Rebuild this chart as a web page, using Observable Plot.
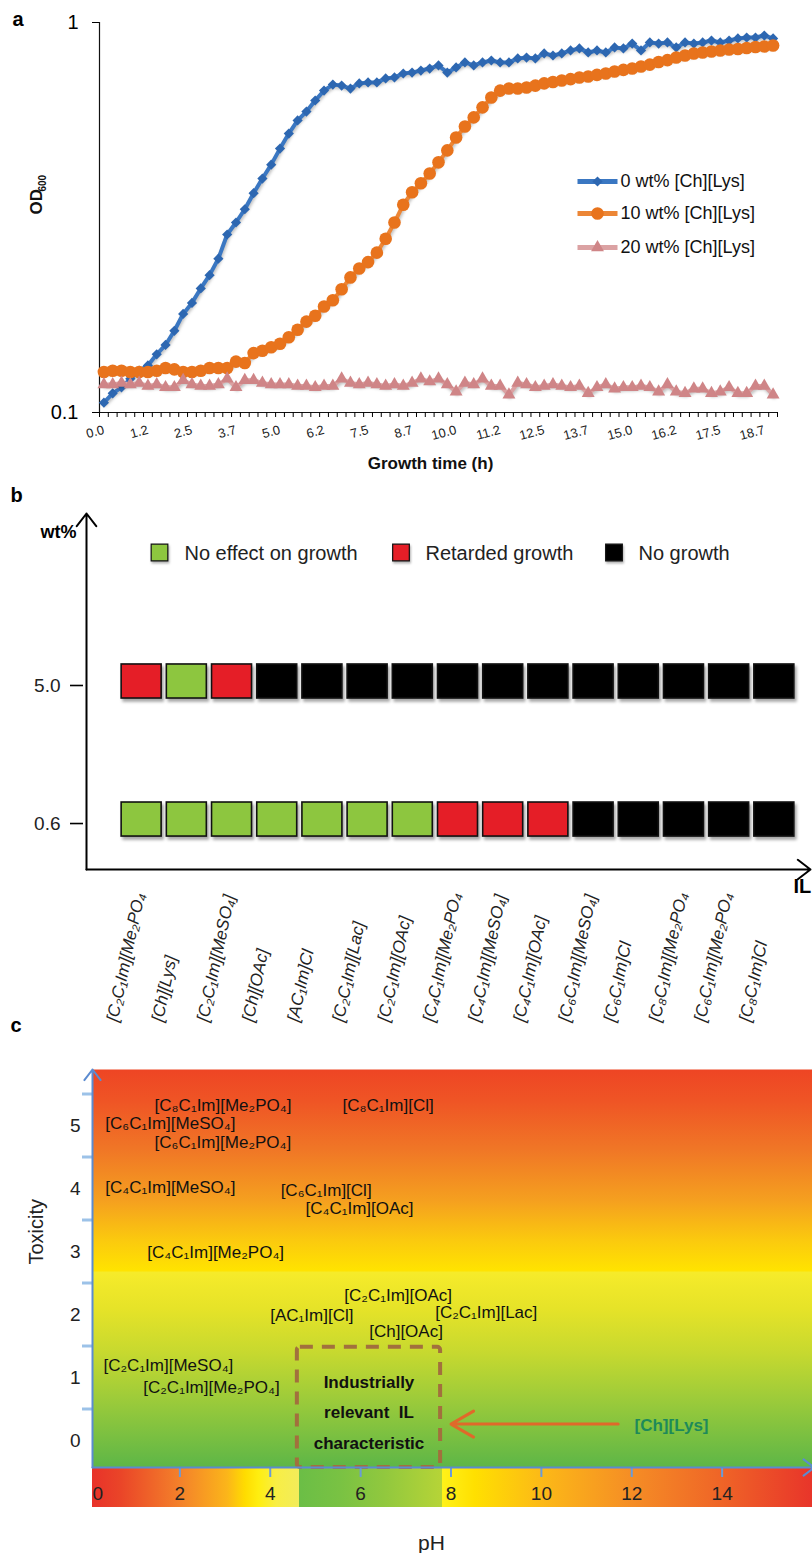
<!DOCTYPE html>
<html>
<head>
<meta charset="utf-8">
<script src="https://cdn.jsdelivr.net/npm/d3@7"></script>
<script src="https://cdn.jsdelivr.net/npm/@observablehq/plot@0.6"></script>
<style>
  body { margin: 0; background: #fff; font-family: "Liberation Sans", Arial, sans-serif; }
  #wrap { position: relative; width: 812px; height: 1553px; overflow: hidden; }
  #panelB g[aria-label="rect"] rect { filter: drop-shadow(2px 3px 1.5px rgba(0,0,0,0.35)); }
  #panelB g[aria-label="dot"] path { filter: drop-shadow(1px 2px 1px rgba(0,0,0,0.3)); }
  #panelA g[aria-label="line"] path { filter: drop-shadow(1px 2px 1.5px rgba(0,0,0,0.25)); }
</style>
</head>
<body>
<div id="wrap"></div>
<script>
const FONT = '"Liberation Sans", Arial, Helvetica, sans-serif';

// ================= Panel a : growth curves =================
const sampleIntervalH = 0.25;
const od0wt = [0.106,0.112,0.116,0.122,0.128,0.132,0.141,0.149,0.162,0.179,
  0.191,0.208,0.225,0.248,0.286,0.307,0.332,0.365,0.398,0.432,
  0.475,0.519,0.561,0.591,0.631,0.669,0.693,0.689,0.677,0.698,
  0.702,0.702,0.719,0.723,0.740,0.744,0.753,0.762,0.776,0.744,
  0.767,0.790,0.776,0.790,0.799,0.790,0.790,0.809,0.813,0.809,
  0.833,0.823,0.833,0.848,0.858,0.838,0.848,0.838,0.863,0.858,
  0.883,0.848,0.889,0.883,0.889,0.863,0.889,0.883,0.889,0.899,
  0.889,0.899,0.910,0.915,0.915,0.926,0.910];
const od10wt = [0.127,0.128,0.128,0.127,0.127,0.127,0.128,0.130,0.129,0.127,
  0.127,0.128,0.130,0.130,0.130,0.135,0.134,0.142,0.144,0.147,
  0.150,0.156,0.163,0.171,0.177,0.187,0.194,0.207,0.222,0.234,
  0.243,0.257,0.279,0.307,0.341,0.367,0.387,0.410,0.438,0.470,
  0.507,0.541,0.571,0.606,0.642,0.669,0.677,0.677,0.681,0.689,
  0.698,0.704,0.710,0.716,0.723,0.727,0.734,0.740,0.749,0.756,
  0.762,0.771,0.780,0.792,0.801,0.813,0.823,0.833,0.838,0.843,
  0.848,0.853,0.855,0.860,0.865,0.868,0.873];
const od20wt = [0.118,0.118,0.119,0.118,0.119,0.117,0.118,0.116,0.116,0.121,
  0.118,0.117,0.117,0.118,0.122,0.116,0.121,0.121,0.119,0.118,
  0.118,0.118,0.117,0.117,0.116,0.117,0.117,0.122,0.119,0.118,
  0.119,0.118,0.117,0.118,0.117,0.119,0.122,0.120,0.122,0.118,
  0.113,0.119,0.118,0.122,0.117,0.117,0.111,0.119,0.118,0.116,
  0.117,0.118,0.117,0.116,0.117,0.112,0.116,0.118,0.115,0.116,
  0.116,0.117,0.116,0.113,0.118,0.113,0.112,0.115,0.115,0.112,
  0.113,0.116,0.112,0.112,0.117,0.117,0.111];
const seriesLabels = ["0 wt% [Ch][Lys]", "10 wt% [Ch][Lys]", "20 wt% [Ch][Lys]"];
const timeTickLabels = ["0.0","1.2","2.5","3.7","5.0","6.2","7.5","8.7","10.0","11.2","12.5","13.7","15.0","16.2","17.5","18.7"];
const timeLabelEvery = 5;
const odTicks = [0.1, 1];
const odTickLabels = ["0.1", "1"];

// ================= Panel b : IL tolerance grid =================
const ilNames = ["[C₂C₁Im][Me₂PO₄", "[Ch][Lys]", "[C₂C₁Im][MeSO₄]", "[Ch][OAc]", "[AC₁Im]Cl",
  "[C₂C₁Im][Lac]", "[C₂C₁Im][OAc]", "[C₄C₁Im][Me₂PO₄", "[C₄C₁Im][MeSO₄]", "[C₄C₁Im][OAc]",
  "[C₆C₁Im][MeSO₄]", "[C₆C₁Im]Cl", "[C₈C₁Im][Me₂PO₄", "[C₆C₁Im][Me₂PO₄", "[C₈C₁Im]Cl"];
const wtLevels = ["0.6", "5.0"];
const effectAt06 = ["noEffect","noEffect","noEffect","noEffect","noEffect","noEffect","noEffect",
  "retarded","retarded","retarded","noGrowth","noGrowth","noGrowth","noGrowth","noGrowth"];
const effectAt50 = ["retarded","noEffect","retarded","noGrowth","noGrowth","noGrowth","noGrowth","noGrowth",
  "noGrowth","noGrowth","noGrowth","noGrowth","noGrowth","noGrowth","noGrowth"];
const effectKeys = ["noEffect", "retarded", "noGrowth"];
const effectLabels = ["No effect on growth", "Retarded growth", "No growth"];

// ================= Panel c : toxicity vs pH map =================
const annNames = ["[C₈C₁Im][Me₂PO₄]", "[C₈C₁Im][Cl]", "[C₆C₁Im][MeSO₄]", "[C₆C₁Im][Me₂PO₄]",
  "[C₄C₁Im][MeSO₄]", "[C₆C₁Im][Cl]", "[C₄C₁Im][OAc]", "[C₄C₁Im][Me₂PO₄]", "[C₂C₁Im][OAc]",
  "[AC₁Im][Cl]", "[C₂C₁Im][Lac]", "[Ch][OAc]", "[C₂C₁Im][MeSO₄]", "[C₂C₁Im][Me₂PO₄]"];
const annPH  = [1.44, 5.60, 0.35, 1.44, 0.35, 4.23, 4.78, 1.28, 5.64, 4.00, 7.65, 6.19, 0.31, 1.19];
const annTox = [5.32, 5.32, 5.03, 4.73, 4.02, 3.97, 3.68, 2.98, 2.30, 1.98, 2.03, 1.73, 1.19, 0.84];
const toxTicks = [0, 1, 2, 3, 4, 5];
const toxTickLabels = ["0", "1", "2", "3", "4", "5"];
const pHTicks = [0, 2, 4, 6, 8, 10, 12, 14];
const pHTickLabels = ["0", "2", "4", "6", "8", "10", "12", "14"];
const industrialPH = [4.6, 7.77];
const industrialMaxTox = 1.48;
const industrialText = ["Industrially", "relevant\u00a0\u00a0IL", "characteristic"];
const industrialTextTox = [0.92, 0.44, -0.05];
const chLysLabel = ["[Ch][Lys]"];
const chLysPH = [12.88];
const chLysTox = [0.23];
const chLysArrowPH = [11.7, 8.0];

// ---------------------------------------------------------------
const wrap = document.getElementById("wrap");
const baseStyle = {background: "transparent", overflow: "visible", fontFamily: FONT};
function place(svg, top, id) {
  svg.style.position = "absolute";
  svg.style.left = "0px";
  svg.style.top = top + "px";
  svg.id = id;
  wrap.appendChild(svg);
}

// ---------- Panel a ----------
const times = od0wt.map((_, i) => i * sampleIntervalH);
const xDomA = [-0.5 * sampleIntervalH, (od0wt.length - 0.5) * sampleIntervalH];
const boundaries = d3.range(od0wt.length + 1).map(k => (k - 0.5) * sampleIntervalH);
const labelTimes = timeTickLabels.map((_, j) => j * timeLabelEvery * sampleIntervalH);
const seriesA = [od0wt, od10wt, od20wt];
const lookA = [
  {line: "#3a77c2", fill: "#2d67b1", symbol: "diamond2", r: 4.6},
  {line: "#ec8636", fill: "#e8731c", symbol: "circle", r: 6.3},
  {line: "#dba2a3", fill: "#cf8587", symbol: "triangle", r: 4.8}
];
const dashSymbol = {draw(ctx) { ctx.moveTo(-20, 0); ctx.lineTo(20, 0); }};

const marksA = [
  Plot.ruleX([xDomA[0]], {stroke: "#111", strokeWidth: 1.2}),
  Plot.ruleY([odTicks[0]], {stroke: "#111", strokeWidth: 1.2}),
  Plot.axisY({ticks: odTicks, tickFormat: d => odTickLabels[odTicks.indexOf(d)], tickSize: 7, tickPadding: 14, fontSize: 20, label: null}),
  Plot.axisX({ticks: boundaries, tickSize: 5, tickFormat: () => "", label: null}),
  Plot.text(labelTimes, {x: d => d, text: (d, i) => timeTickLabels[i], frameAnchor: "bottom", lineAnchor: "middle",
    textAnchor: "end", rotate: -15, dy: 17, fontSize: 13, fill: "#222"})
];
seriesA.forEach((vals, k) => {
  marksA.push(Plot.line(vals, {x: (d, i) => times[i], y: d => d, stroke: lookA[k].line, strokeWidth: 4}));
  marksA.push(Plot.dot(vals, {x: (d, i) => times[i], y: d => d, symbol: lookA[k].symbol, r: lookA[k].r,
    fill: lookA[k].fill, stroke: "none"}));
});
const legendDyA = [159, 191, 225];
seriesLabels.forEach((name, k) => {
  marksA.push(Plot.dot([name], {frameAnchor: "top-left", dx: 498, dy: legendDyA[k], symbol: dashSymbol,
    stroke: lookA[k].line, strokeWidth: 5, fill: "none"}));
  marksA.push(Plot.dot([name], {frameAnchor: "top-left", dx: 498, dy: legendDyA[k], symbol: lookA[k].symbol,
    r: lookA[k].r, fill: lookA[k].fill, stroke: "none"}));
  marksA.push(Plot.text([name], {frameAnchor: "top-left", lineAnchor: "middle", dx: 521, dy: legendDyA[k], text: d => d,
    textAnchor: "start", fontSize: 18, fill: "#111"}));
});
marksA.push(
  Plot.text(["OD"], {frameAnchor: "left", lineAnchor: "middle", dx: -63, dy: -3, rotate: -90, fontWeight: "bold", fontSize: 17, fill: "#111"}),
  Plot.text(["600"], {frameAnchor: "left", lineAnchor: "middle", dx: -57, dy: -26, rotate: -90, fontWeight: "bold", fontSize: 10, fill: "#111"}),
  Plot.text(["Growth time (h)"], {frameAnchor: "bottom", lineAnchor: "middle", dx: -8, dy: 51, fontWeight: "bold", fontSize: 17, fill: "#111"}),
  Plot.text(["a"], {frameAnchor: "top-left", lineAnchor: "middle", dx: -87, dy: -3, textAnchor: "start", fontWeight: "bold", fontSize: 20})
);

const svgA = Plot.plot({
  width: 812, height: 478,
  marginLeft: 99, marginRight: 35, marginTop: 22, marginBottom: 66,
  style: baseStyle,
  x: {domain: xDomA, axis: null},
  y: {type: "log", domain: [0.1, 1], axis: null},
  marks: marksA
});
place(svgA, 0, "panelA");

// ---------- Panel b ----------
const xDomB = [-1.22, 14.8];
const yDomB = [-0.362, 2.217];
const cellsB = [
  ...effectAt06.map((e, i) => ({il: i, wt: 0, e})),
  ...effectAt50.map((e, i) => ({il: i, wt: 1, e}))
];
const legendSquareDx = [73, 314.5, 527.5];
const legendTextDx = [98, 339, 552];

const marksB = [
  Plot.rect(cellsB, {x1: d => d.il - 0.5, x2: d => d.il + 0.5, y1: d => d.wt - 0.5, y2: d => d.wt + 0.5,
    insetLeft: 2.6, insetRight: 2.6, insetTop: 52, insetBottom: 52, fill: "e", stroke: "#111", strokeWidth: 1.6}),
  Plot.arrow([0], {x1: xDomB[0], y1: yDomB[0], x2: xDomB[0], y2: yDomB[1], stroke: "#000", strokeWidth: 2, headLength: 12, headAngle: 75}),
  Plot.arrow([0], {x1: xDomB[0], y1: yDomB[0], x2: xDomB[1], y2: yDomB[0], stroke: "#000", strokeWidth: 2, headLength: 12, headAngle: 75}),
  Plot.axisY({ticks: [0, 1], tickFormat: i => wtLevels[i], tickSize: 13, tickPadding: 10, dx: -3, dy: 4,
    fontSize: 19, strokeWidth: 1.6, label: null, fill: "#222"}),
  Plot.text(ilNames, {x: (d, i) => i, text: d => d, frameAnchor: "bottom", dy: 153, dx: -24, rotate: -78,
    textAnchor: "start", fontStyle: "italic", fontSize: 17, fill: "#222"}),
  Plot.text(["wt%"], {frameAnchor: "top-left", lineAnchor: "middle", dx: -10, dy: 19, textAnchor: "end", fontWeight: "bold", fontSize: 18}),
  Plot.text(["IL"], {frameAnchor: "bottom-right", lineAnchor: "middle", dx: -17, dy: 17, textAnchor: "start", fontWeight: "bold", fontSize: 20}),
  Plot.text(["b"], {frameAnchor: "top-left", lineAnchor: "middle", dx: -76, dy: -18, textAnchor: "start", fontWeight: "bold", fontSize: 20})
];
effectKeys.forEach((key, k) => {
  marksB.push(Plot.dot([key], {frameAnchor: "top-left", dx: legendSquareDx[k], dy: 39, symbol: "square", r: 9.4,
    fill: d => d, stroke: "#111", strokeWidth: 1.2}));
  marksB.push(Plot.text([effectLabels[k]], {frameAnchor: "top-left", lineAnchor: "middle", dx: legendTextDx[k], dy: 40, text: d => d,
    textAnchor: "start", fontSize: 20, fill: "#222"}));
});

const svgB = Plot.plot({
  width: 812, height: 560,
  marginLeft: 86, marginRight: 2, marginTop: 35, marginBottom: 169,
  style: baseStyle,
  x: {domain: xDomB, axis: null},
  y: {domain: yDomB, axis: null},
  color: {domain: effectKeys, range: ["#8dc63f", "#e51e27", "#000000"]},
  marks: marksB
});
place(svgB, 478, "panelB");

// ---------- Panel c ----------
const xDomC = [0, 16];
const yDomC = [-0.4286, 5.889];
const pxPerTox = 63;
const axisBlue = "#5b8bd0";
const annRows = annNames.map((name, i) => ({name, pH: annPH[i], tox: annTox[i]}));

const marksC = [
  Plot.frame({fill: "url(#toxGrad)", stroke: "none"}),
  Plot.rect([0], {x1: xDomC[0], x2: xDomC[1], y1: yDomC[0], y2: yDomC[0] - 40 / pxPerTox, insetLeft: 3, fill: "url(#phGrad)"}),
  Plot.rect([0], {x1: industrialPH[0], x2: industrialPH[1], y1: yDomC[0], y2: industrialMaxTox,
    fill: "none", stroke: "#a2703d", strokeWidth: 4, strokeDasharray: "13,9", rx: 3}),
  Plot.axisY({ticks: toxTicks.map(t => t + 0.5), tickSize: 10, tickFormat: () => "", stroke: "#9cc2e8", strokeWidth: 3, label: null}),
  Plot.axisY({ticks: toxTicks, tickSize: 0, tickPadding: 12, tickFormat: d => toxTickLabels[toxTicks.indexOf(d)],
    fontSize: 19, label: null, fill: "#222"}),
  Plot.axisX({ticks: pHTicks.slice(1), tickSize: 10, tickFormat: () => "", stroke: "#6a9bd8", strokeWidth: 2, label: null}),
  Plot.arrow([0], {x1: xDomC[0], y1: yDomC[0], x2: xDomC[0], y2: yDomC[1], dx: 3, stroke: axisBlue, strokeWidth: 2, headLength: 10, headAngle: 75}),
  Plot.arrow([0], {x1: xDomC[0], y1: yDomC[0], x2: xDomC[1] - 0.03, y2: yDomC[0], dx: 3, stroke: axisBlue, strokeWidth: 2, headLength: 10, headAngle: 75}),
  Plot.text([0], {x: d => pHTicks[d], text: d => pHTickLabels[d], frameAnchor: "bottom", lineAnchor: "middle", dy: 26, dx: 3,
    textAnchor: "start", fontSize: 19, fill: "#222"}),
  Plot.text(d3.range(1, pHTicks.length), {x: d => pHTicks[d], text: d => pHTickLabels[d], frameAnchor: "bottom",
    lineAnchor: "middle", dy: 26, fontSize: 19, fill: "#222"}),
  Plot.text(annRows, {x: "pH", y: "tox", text: "name", textAnchor: "start", fontSize: 17, fill: "#111"}),
  Plot.text(industrialText, {x: () => (industrialPH[0] + industrialPH[1]) / 2, y: (d, i) => industrialTextTox[i],
    text: d => d, fontWeight: "bold", fontSize: 17, fill: "#111"}),
  Plot.arrow([0], {x1: chLysArrowPH[0], x2: chLysArrowPH[1], y1: chLysTox[0] + 0.03, y2: chLysTox[0] + 0.03,
    stroke: "#e0692a", strokeWidth: 3, headLength: 13, headAngle: 60}),
  Plot.text(chLysLabel, {x: (d, i) => chLysPH[i], y: (d, i) => chLysTox[i], text: d => d, fontWeight: "bold",
    fontSize: 17, fill: "#1d8a5a"}),
  Plot.text(["Toxicity"], {frameAnchor: "left", lineAnchor: "middle", rotate: -90, dx: -56, dy: -4, fontSize: 20, fill: "#222"}),
  Plot.text(["pH"], {frameAnchor: "bottom", lineAnchor: "middle", dx: -21, dy: 76, fontSize: 21, fill: "#222"}),
  Plot.text(["c"], {frameAnchor: "top-left", lineAnchor: "middle", dx: -82, dy: -44, textAnchor: "start", fontWeight: "bold", fontSize: 20})
];

const svgC = Plot.plot({
  width: 812, height: 545,
  marginLeft: 92, marginRight: 0, marginTop: 61, marginBottom: 86,
  style: baseStyle,
  x: {domain: xDomC, range: [89, 812], axis: null},
  y: {domain: yDomC, axis: null},
  marks: marksC
});

// gradients used by the background frame and the pH bar
const defs = d3.select(svgC).insert("defs", ":first-child");
const toxStops = [[0, "#ee4524"], [0.08, "#ef5525"], [0.2, "#f07626"], [0.33, "#f5a01f"], [0.43, "#fbca0e"],
  [0.505, "#ffe300"], [0.51, "#f6eb2a"], [0.6, "#e6e328"], [0.71, "#c7d92f"], [0.83, "#9ccb3a"], [1, "#5db647"]];
const tg = defs.append("linearGradient").attr("id", "toxGrad").attr("x1", 0).attr("y1", 0).attr("x2", 0).attr("y2", 1);
toxStops.forEach(([o, c]) => tg.append("stop").attr("offset", o).attr("stop-color", c));
const phStops = [[0, "#e8322a"], [0.04, "#ea4528"], [0.125, "#f4832a"], [0.1875, "#fbb51a"], [0.2125, "#ffdc00"],
  [0.231, "#ffee10"], [0.256, "#f8ee45"], [0.2875, "#f2ec5a"], [0.2876, "#6bbe46"], [0.344, "#79c243"],
  [0.406, "#91c83e"], [0.4855, "#b6d437"], [0.4856, "#fff21a"], [0.531, "#ffe000"], [0.625, "#fcb917"],
  [0.75, "#f58d25"], [0.875, "#ef6427"], [1, "#e8352a"]];
const pg = defs.append("linearGradient").attr("id", "phGrad").attr("x1", 0).attr("y1", 0).attr("x2", 1).attr("y2", 0);
phStops.forEach(([o, c]) => pg.append("stop").attr("offset", o).attr("stop-color", c));

place(svgC, 1008, "panelC");
</script>
</body>
</html>
